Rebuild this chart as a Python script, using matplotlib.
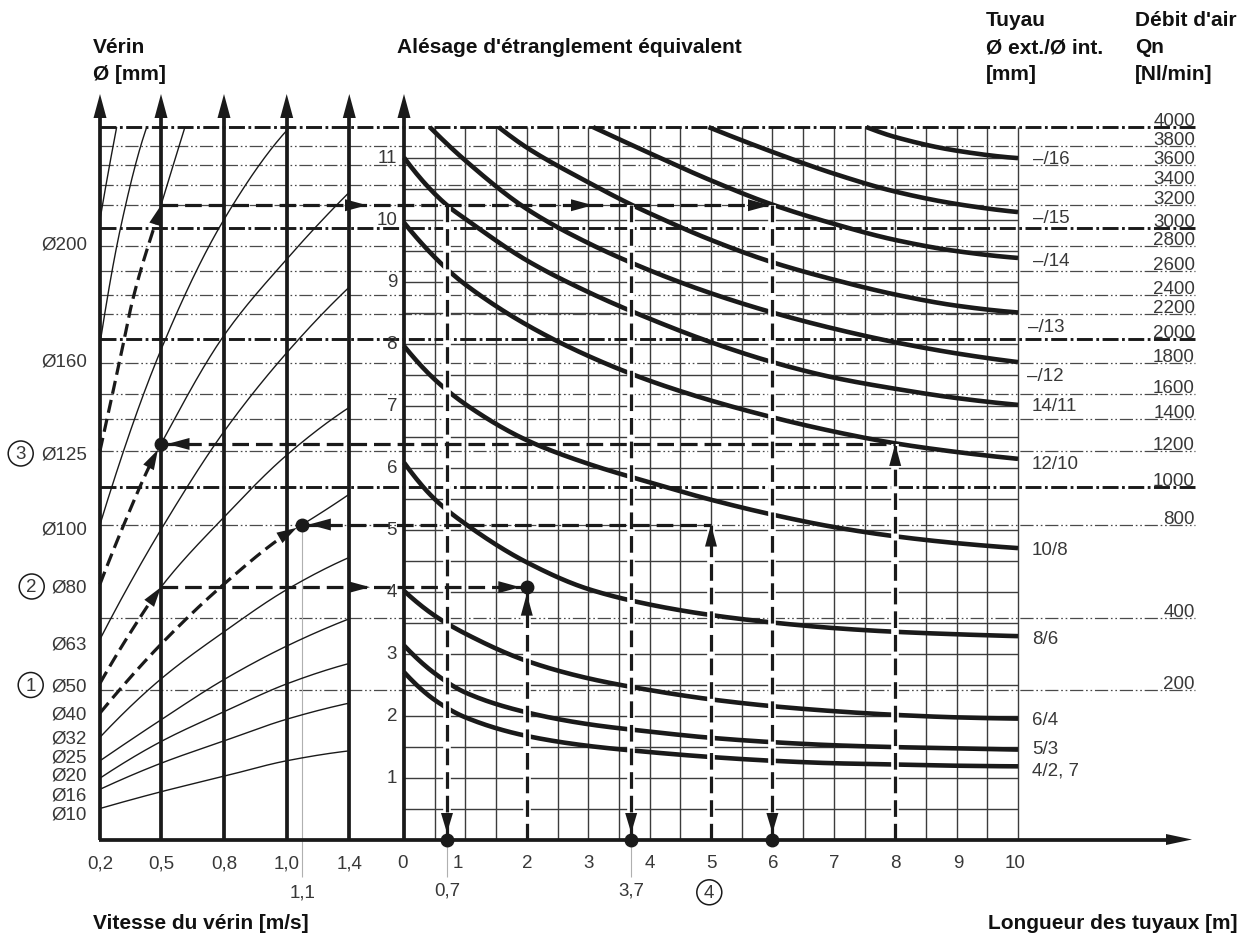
import numpy as np
import matplotlib
matplotlib.use("Agg")
import matplotlib.pyplot as plt
from matplotlib.patches import Polygon, Ellipse

plt.rcParams['font.family'] = ['Liberation Sans', 'DejaVu Sans']
plt.rcParams['lines.scale_dashes'] = False
plt.rcParams['lines.solid_capstyle'] = 'butt'
plt.rcParams['lines.dash_capstyle'] = 'butt'

# ---------------- data ----------------
speed_ticks = [0.2, 0.5, 0.8, 1.0, 1.4]
speed_labels = ['0,2', '0,5', '0,8', '1,0', '1,4']
length_ticks = [0, 1, 2, 3, 4, 5, 6, 7, 8, 9, 10]
bore_ticks = [1, 2, 3, 4, 5, 6, 7, 8, 9, 10, 11]

flow_labels = [4000, 3800, 3600, 3400, 3200, 3000, 2800, 2600, 2400, 2200,
               2000, 1800, 1600, 1400, 1200, 1000, 800, 400, 200]
flow_bore = [11.49, 11.19, 10.88, 10.56, 10.23, 9.86, 9.58, 9.17, 8.78, 8.48,
             8.07, 7.68, 7.18, 6.78, 6.27, 5.68, 5.08, 3.58, 2.41]
flow_major = [4000, 3000, 2000, 1000]

cyl_labels = ['Ø10', 'Ø16', 'Ø20', 'Ø25', 'Ø32', 'Ø40', 'Ø50', 'Ø63',
              'Ø80', 'Ø100', 'Ø125', 'Ø160', 'Ø200']
cyl_speed = [
    [0.2, 0.5, 0.8, 1.0, 1.4],
    [0.2, 0.5, 0.8, 1.0, 1.4],
    [0.2, 0.5, 0.8, 1.0, 1.4],
    [0.2, 0.5, 0.8, 1.0, 1.4],
    [0.2, 0.5, 0.8, 1.0, 1.4],
    [0.2, 0.5, 0.8, 1.0, 1.1, 1.4],
    [0.2, 0.35, 0.5, 0.8, 1.0, 1.4],
    [0.2, 0.33, 0.5, 0.8, 1.0, 1.4],
    [0.2, 0.32, 0.44, 0.5, 0.8, 1.0, 1.4],
    [0.2, 0.5, 0.8, 1.02],
    [0.2, 0.298, 0.362, 0.5, 0.614],
    [0.2, 0.3, 0.43],
    [0.2, 0.24, 0.282],
]
cyl_bore = [
    [0.50, 0.77, 1.02, 1.27, 1.43],
    [0.81, 1.23, 1.59, 1.94, 2.20],
    [0.99, 1.58, 2.06, 2.51, 2.84],
    [1.27, 1.93, 2.58, 3.12, 3.56],
    [1.65, 2.59, 3.35, 4.03, 4.55],
    [2.04, 3.15, 4.12, 4.93, 5.08, 5.57],
    [2.52, 3.34, 4.07, 5.20, 6.20, 6.97],
    [3.23, 4.03, 5.00, 6.58, 7.85, 8.91],
    [4.12, 5.10, 6.00, 6.38, 8.13, 9.36, 10.44],
    [5.08, 7.90, 10.00, 11.49],
    [6.27, 7.74, 8.72, 10.23, 11.49],
    [8.00, 9.85, 11.49],
    [10.00, 10.75, 11.49],
]
# speed up to which the curve is drawn dashed (worked example), None = solid
cyl_dash_to = [None, None, None, None, None, 1.1, 0.5, None, 0.5, None, 0.5, None, None]
cyl_dot_end = [False, False, False, False, False, True, False, False, True, False, False, False, False]

pipe_labels = ['–/16', '–/15', '–/14', '–/13', '–/12', '14/11', '12/10',
               '10/8', '8/6', '6/4', '5/3', '4/2, 7']
pipe_len = [
    [7.53, 8, 9, 10],
    [4.96, 6, 7, 8, 9, 10],
    [3.08, 4, 5, 6, 7, 8, 9, 10],
    [1.54, 2, 3, 3.7, 4, 5, 6, 7, 8, 9, 10],
    [0.42, 1, 2, 3, 4, 5, 6, 7, 8, 9, 10],
    [0, 0.7, 1, 2, 3, 4, 5, 6, 7, 8, 9, 10],
    [0, 0.7, 1, 2, 3, 4, 5, 6, 7, 8, 9, 10],
    [0, 0.5, 1, 2, 3, 4, 5, 6, 7, 8, 9, 10],
    [0, 0.5, 1, 2, 3, 4, 5, 6, 7, 8, 9, 10],
    [0, 0.5, 1, 2, 3, 4, 5, 6, 7, 8, 9, 10],
    [0, 0.5, 1, 2, 3, 4, 5, 6, 7, 8, 9, 10],
    [0, 0.5, 1, 2, 3, 4, 5, 6, 7, 8, 9, 10],
]
pipe_bore = [
    [11.49, 11.33, 11.11, 10.99],
    [11.49, 11.09, 10.74, 10.45, 10.25, 10.12],
    [11.49, 11.07, 10.63, 10.24, 9.93, 9.67, 9.49, 9.38],
    [11.49, 11.16, 10.60, 10.24, 10.10, 9.67, 9.31, 9.03, 8.79, 8.61, 8.50],
    [11.49, 10.95, 10.17, 9.62, 9.18, 8.81, 8.50, 8.24, 8.02, 7.84, 7.70],
    [11.00, 10.23, 10.01, 9.34, 8.83, 8.40, 8.02, 7.70, 7.45, 7.27, 7.12, 7.01],
    [9.95, 9.20, 8.95, 8.30, 7.80, 7.40, 7.08, 6.81, 6.58, 6.39, 6.25, 6.14],
    [7.96, 7.42, 7.02, 6.44, 6.06, 5.76, 5.48, 5.24, 5.04, 4.89, 4.78, 4.70],
    [6.08, 5.49, 5.09, 4.47, 4.04, 3.79, 3.62, 3.50, 3.41, 3.35, 3.31, 3.28],
    [4.01, 3.61, 3.32, 2.88, 2.60, 2.41, 2.26, 2.15, 2.07, 2.01, 1.97, 1.95],
    [3.13, 2.68, 2.37, 2.05, 1.86, 1.74, 1.64, 1.57, 1.52, 1.49, 1.47, 1.45],
    [2.70, 2.25, 1.97, 1.67, 1.51, 1.41, 1.33, 1.27, 1.23, 1.21, 1.19, 1.18],
]

# worked examples
ex_level = [10.23, 6.38, 5.08, 4.07]     # equivalent bore of horizontal path
ex_speed = [0.5, 0.5, 1.1, 0.5]          # cylinder speed where it meets
ex_length = [6.0, 8.0, 5.0, 2.0]         # pipe length where it meets
ex_drop_length = [0.7, 3.7, 6.0]
ex_marks = ['0,7', '3,7']

# ---------------- layout ----------------
W, H = 1248, 937
PX0, PXS = 404.0, 61.4     # pixel x of L=0 and pixels per metre
PY0, PYS = 840.5, 62.0     # pixel y of bore 0 and pixels per mm
speed_axis_px = [100, 161, 224, 286.7, 349.3]

INK = '#1a1a1a'
TXT = '#383838'


def X(px):
    return (np.asarray(px, float) - PX0) / PXS


def Y(py):
    return (PY0 - np.asarray(py, float)) / PYS


def to_px(x, y):
    return PX0 + np.asarray(x) * PXS, PY0 - np.asarray(y) * PYS


speed_axis_x = X(speed_axis_px)


def sx(s):
    return np.interp(s, speed_ticks, speed_axis_x)


def pchip(x, y, xn):
    x = np.asarray(x, float)
    y = np.asarray(y, float)
    n = len(x)
    h = np.diff(x)
    dl = np.diff(y) / h
    d = np.zeros(n)
    if n == 2:
        d[:] = dl[0]
    else:
        for k in range(1, n - 1):
            if dl[k - 1] * dl[k] <= 0:
                d[k] = 0
            else:
                w1 = 2 * h[k] + h[k - 1]
                w2 = h[k] + 2 * h[k - 1]
                d[k] = (w1 + w2) / (w1 / dl[k - 1] + w2 / dl[k])

        def ends(h0, h1, d0, d1):
            s = ((2 * h0 + h1) * d0 - h0 * d1) / (h0 + h1)
            if np.sign(s) != np.sign(d0):
                s = 0.0
            elif np.sign(d0) != np.sign(d1) and abs(s) > abs(3 * d0):
                s = 3 * d0
            return s
        d[0] = ends(h[0], h[1], dl[0], dl[1])
        d[-1] = ends(h[-1], h[-2], dl[-1], dl[-2])
    idx = np.clip(np.searchsorted(x, xn) - 1, 0, n - 2)
    t = (xn - x[idx]) / h[idx]
    h00 = 2 * t**3 - 3 * t**2 + 1
    h10 = t**3 - 2 * t**2 + t
    h01 = -2 * t**3 + 3 * t**2
    h11 = t**3 - t**2
    return h00 * y[idx] + h10 * h[idx] * d[idx] + h01 * y[idx + 1] + h11 * h[idx] * d[idx + 1]


fig = plt.figure(figsize=(W / 100, H / 100), dpi=100)
ax = fig.add_axes([0, 0, 1, 1])
ax.set_xlim(X(0), X(W))
ax.set_ylim(Y(H), Y(0))
ax.axis('off')


def arrowhead(tip, direction, length=22, hw=6, z=8, color=INK):
    """tip in data coords, direction in pixel coords (y down)."""
    tx, ty = to_px(*tip)
    dx, dy = direction
    nrm = np.hypot(dx, dy)
    dx, dy = dx / nrm, dy / nrm
    bx, by = tx - length * dx, ty - length * dy
    nx, ny = -dy, dx
    pts = [(tx, ty), (bx + hw * nx, by + hw * ny), (bx - hw * nx, by - hw * ny)]
    pts = [(float(X(p[0])), float(Y(p[1]))) for p in pts]
    ax.add_patch(Polygon(pts, closed=True, fc=color, ec='none', zorder=z))


TOP = flow_bore[0]
x_left = speed_axis_x[0]
x_right_lines = X(1195)

# ---- grid of the pipe chart ----
for L in np.arange(0.5, 10.01, 0.5):
    ax.plot([L, L], [0, TOP], color='#3c3c3c', lw=1.0, zorder=1)
for b in np.arange(0.5, 11.01, 0.5):
    ax.plot([0, 10], [b, b], color='#3c3c3c', lw=1.0, zorder=1)

# ---- air-flow lines ----
for q, b in zip(flow_labels, flow_bore):
    if q in flow_major:
        ax.plot([x_left, x_right_lines], [b, b], color=INK, lw=2.1,
                dashes=(11.5, 2.5, 2.0, 2.5), zorder=2)
    else:
        ax.plot([x_left, x_right_lines], [b, b], color='#4a4a4a', lw=0.9,
                dashes=(9.5, 2.0, 1.2, 2.0, 1.2, 2.0), zorder=2)
    ax.text(X(1195), b + 2.0 / PYS, str(q), ha='right', va='baseline',
            fontsize=13.5, color=TXT, zorder=9)

# ---- pipe curves ----
for L, b in zip(pipe_len, pipe_bore):
    xn = np.linspace(L[0], L[-1], 300)
    ax.plot(xn, pchip(L, b, xn), color=INK, lw=3.3, zorder=4,
            solid_capstyle='butt')

pipe_label_py = [159.3, 218.3, 261.7, 327.7, 376.7, 406.7, 465, 550.7, 640,
                 720.7, 750, 770.7]
pipe_label_px = [1033, 1033, 1033, 1028, 1027, 1032, 1032, 1032, 1032, 1032, 1032, 1032]
for lab, px, py in zip(pipe_labels, pipe_label_px, pipe_label_py):
    ax.text(X(px), Y(py), lab, ha='left', va='center', fontsize=13.5,
            color=TXT, zorder=9)

# ---- cylinder curves ----
ex_dash = (9.5, 4.5)
for s, b, dash_to, dot in zip(cyl_speed, cyl_bore, cyl_dash_to, cyl_dot_end):
    xs = sx(s)
    xn = np.linspace(xs[0], xs[-1], 400)
    yn = pchip(xs, b, xn)
    if dash_to is None:
        ax.plot(xn, yn, color=INK, lw=1.0, zorder=3)
    else:
        xb = sx(dash_to)
        m = xn <= xb
        xd = np.append(xn[m], xb)
        yd = np.append(yn[m], pchip(xs, b, np.array([xb]))[0])
        if xs[-1] > xb + 1e-6:
            ms = xn >= xb
            ax.plot(np.insert(xn[ms], 0, xb), np.insert(yn[ms], 0, yd[-1]),
                    color=INK, lw=1.0, zorder=3)
        # arrow at end of dashed part
        pxd, pyd = to_px(xd, yd)
        tipx, tipy = pxd[-1], pyd[-1]
        seg = np.hypot(pxd - tipx, pyd - tipy)
        j = np.argmin(np.abs(seg - 14))
        dirv = (tipx - pxd[j], tipy - pyd[j])
        nn = np.hypot(*dirv)
        off = 6.5 if dot else 0.0
        tip_px = (tipx - off * dirv[0] / nn, tipy - off * dirv[1] / nn)
        keep = seg >= off + 12
        ax.plot(xd[keep], yd[keep], color=INK, lw=2.3, dashes=ex_dash, zorder=6)
        arrowhead((X(tip_px[0]), Y(tip_px[1])), dirv, length=20, hw=6)

# ---- worked example paths ----
def dashed_line(xa, ya, xb, yb, casing=False):
    if casing:
        ax.plot([xa, xb], [ya, yb], color='white', lw=5.5, zorder=5)
    ax.plot([xa, xb], [ya, yb], color=INK, lw=2.3, dashes=(12, 5), zorder=6)


dot_r = 6.5
# horizontals
for lev, s, L in zip(ex_level, ex_speed, ex_length):
    dashed_line(sx(s), lev, L, lev)
# level 10.23 : drops
for L in ex_drop_length:
    dashed_line(L, ex_level[0], L, 0, casing=True)
    arrowhead((L, Y(PY0 - dot_r)), (0, 1), length=20, hw=6)
    ax.plot([L], [0], 'o', ms=9, color=INK, zorder=9)
# rising verticals
for lev, L, hasdot in zip(ex_level[1:], ex_length[1:], [False, False, True]):
    dashed_line(L, 0, L, lev, casing=True)
    tip = lev - (dot_r / PYS if hasdot else 0)
    arrowhead((L, tip), (0, -1), length=22, hw=6)
# arrowheads along horizontals
for tpx in [367, 593, 770]:
    arrowhead((X(tpx), ex_level[0]), (1, 0), length=22, hw=6)
arrowhead((sx(0.5) + dot_r / PXS, ex_level[1]), (-1, 0), length=22, hw=6)
arrowhead((sx(1.1) + dot_r / PXS, ex_level[2]), (-1, 0), length=22, hw=6)
arrowhead((X(370), ex_level[3]), (1, 0), length=22, hw=6)
arrowhead((ex_length[3] - dot_r / PXS, ex_level[3]), (1, 0), length=22, hw=6)
# dots
ax.plot([sx(0.5), sx(1.1), ex_length[3]], [ex_level[1], ex_level[2], ex_level[3]],
        'o', ms=9, color=INK, zorder=9)

# thin grey reading lines
ax.plot([sx(1.1), sx(1.1)], [ex_level[2], Y(878)], color='#b0b0b0', lw=0.8, zorder=2)
for L in ex_drop_length[:2]:
    ax.plot([L, L], [0, Y(878)], color='#b0b0b0', lw=0.8, zorder=2)

# ---- axes (thick lines with arrows) ----
TIP = Y(95)
for xa in list(speed_axis_x) + [0.0]:
    ax.plot([xa, xa], [0, TIP - 0.2], color=INK, lw=2.7, zorder=7)
    arrowhead((xa, TIP), (0, -1), length=24, hw=6.5, z=8)
ax.plot([x_left - 1.3 / PXS, X(1175)], [0, 0], color=INK, lw=2.7, zorder=7)
arrowhead((X(1192), 0), (1, 0), length=26, hw=5.5, z=8)

# ---- tick labels ----
for s, lab in zip(speed_ticks, speed_labels):
    ax.text(sx(s), Y(864), lab, ha='center', va='center', fontsize=13.5, color=TXT)
ax.text(sx(1.1), Y(893), '1,1', ha='center', va='center', fontsize=13.5, color=TXT)
len_label_px = [403, 458, 527, 589, 650, 711, 773, 834, 895, 958, 1015]
for L, px in zip(length_ticks, len_label_px):
    ax.text(X(px), Y(864), str(L), ha='center', va='center', fontsize=13.5, color=TXT)
for L, lab in zip(ex_drop_length[:2], ex_marks):
    ax.text(L, Y(891), lab, ha='center', va='center', fontsize=13.5, color=TXT)
for b in bore_ticks:
    ax.text(X(397), b, str(b), ha='right', va='center', fontsize=13.5, color=TXT, zorder=9)

cyl_label_py = [815, 795.7, 776, 757.7, 739.3, 715, 686.7, 645, 588.3, 530, 455, 361.7, 245]
for lab, py in zip(cyl_labels, cyl_label_py):
    ax.text(X(87), Y(py), lab, ha='right', va='center', fontsize=13.5, color=TXT)

# circled numbers
for num, (cx, cy) in zip(['1', '2', '3', '4'], [(30.7, 686), (31.7, 587.5), (20.7, 454.5), (709.3, 893.3)]):
    r = 12.5
    ax.add_patch(Ellipse((float(X(cx)), float(Y(cy))), 2 * r / PXS, 2 * r / PYS,
                         fc='none', ec=INK, lw=1.1, zorder=9))
    ax.text(X(cx), Y(cy + 0.5), num, ha='center', va='center', fontsize=13.5, color=TXT)

# ---- headings ----
hd = dict(fontsize=15, fontweight='bold', color='#111111', ha='left', va='baseline')
ax.text(X(93), Y(53), 'Vérin', **hd)
ax.text(X(93), Y(80), 'Ø [mm]', **hd)
ax.text(X(397), Y(53), "Alésage d'étranglement équivalent", **hd)
ax.text(X(986), Y(26), 'Tuyau', **hd)
ax.text(X(986), Y(53), 'Ø ext./Ø int.', **hd)
ax.text(X(986), Y(80), '[mm]', **hd)
ax.text(X(1135), Y(26), "Débit d'air", **hd)
ax.text(X(1135), Y(53), 'Qn', **hd)
ax.text(X(1135), Y(80), '[Nl/min]', **hd)
ax.text(X(93), Y(929), 'Vitesse du vérin [m/s]', **hd)
ax.text(X(1238), Y(929), 'Longueur des tuyaux [m]', **{**hd, 'ha': 'right'})

fig.savefig('out.png', dpi=100, facecolor='white')
